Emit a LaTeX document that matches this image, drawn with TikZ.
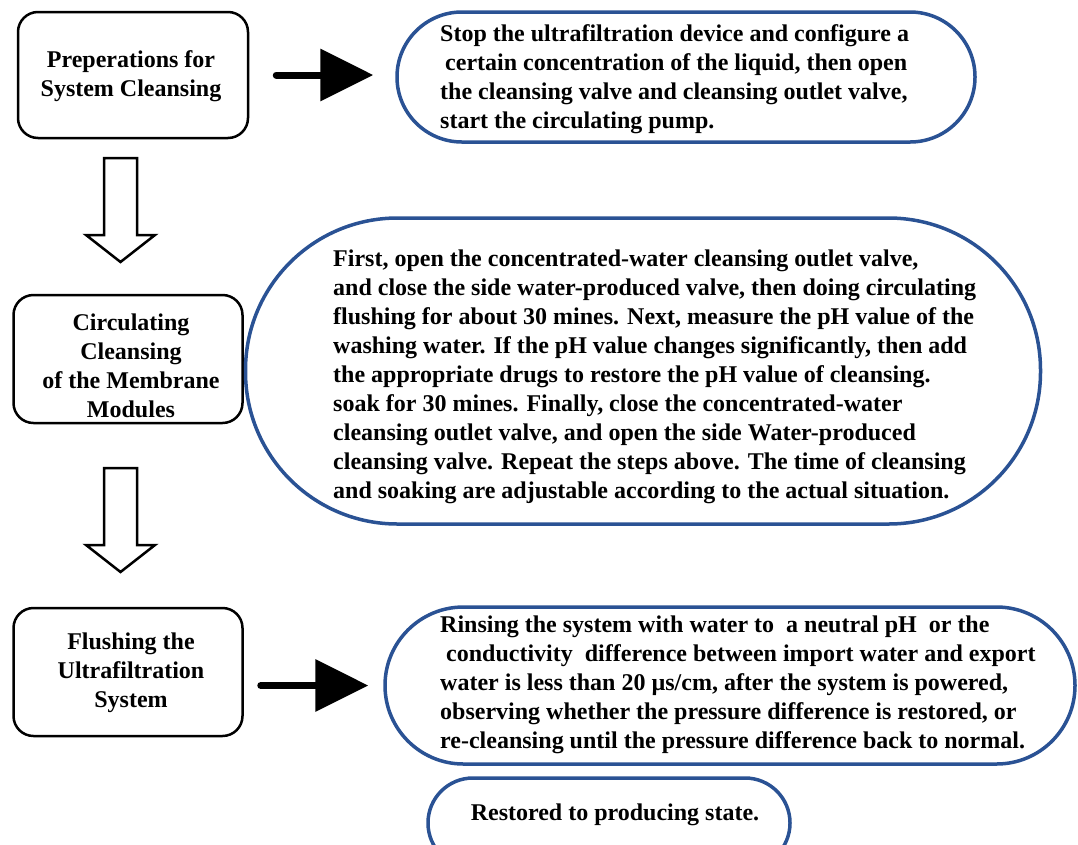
\documentclass[tikz,border=0pt]{standalone}
\usepackage{fontspec}
\setmainfont{Liberation Serif}
\usetikzlibrary{arrows.meta}
\definecolor{stblue}{RGB}{42,82,148}
\tikzset{
  stepbox/.style={draw=black, line width=2.5pt, rounded corners=20pt, inner sep=0pt},
  pill/.style={draw=stblue, line width=3.5pt, inner sep=0pt},
  txt/.style={font=\bfseries\fontsize{24}{29}\selectfont, inner sep=0pt},
  bigarrow/.style={line width=7pt, line cap=round, -{Triangle[length=53pt,width=51pt]}},
  hollow/.style={draw=black, line width=2.5pt, fill=white, line join=miter}
}
\begin{document}
\begin{tikzpicture}[x=1pt,y=-1pt]
\useasboundingbox (0,0) rectangle (1078,844);
\clip (0,0) rectangle (1078,844);

% left boxes
\node[stepbox, minimum width=230pt, minimum height=126pt] (b1) at (133,75) {};
\node[txt, align=center] (b1t) at (131,76) {Preperations for\\System Cleansing};
\node[stepbox, minimum width=229pt, minimum height=128pt] (b2) at (128,359) {};
\node[txt, align=center] (b2t) at (131,366) {Circulating\\Cleansing\\of the Membrane\\Modules};
\node[stepbox, minimum width=229pt, minimum height=128pt] (b3) at (128,672) {};
\node[txt, align=center] (b3t) at (131,673) {Flushing the\\Ultrafiltration\\System};

% pills
\node[pill, rounded corners=64.9pt, minimum width=578pt, minimum height=130pt] (s1) at (686,77) {};
\node[txt, align=left, anchor=west] (s1t) at (440,79) {Stop the ultrafiltration device and configure a\\\hspace{5pt}certain concentration of the liquid, then open\\the cleansing valve and cleansing outlet valve,\\start the circulating pump.};

\node[pill, rounded corners=152pt, minimum width=795pt, minimum height=306pt] (s2) at (643,371) {};
\node[txt, align=left, anchor=west] (s2t) at (333,377) {First, open the concentrated-water cleansing outlet valve,\\and close the side water-produced valve, then doing circulating\\flushing for about 30 mines. Next, measure the pH value of the\\washing water. If the pH value changes significantly, then add\\the appropriate drugs to restore the pH value of cleansing.\\soak for 30 mines. Finally, close the concentrated-water\\cleansing outlet valve, and open the side Water-produced\\cleansing valve. Repeat the steps above. The time of cleansing\\and soaking are adjustable according to the actual situation.};

\node[pill, rounded corners=78.4pt, minimum width=690pt, minimum height=157pt] (s3) at (730,685.5) {};
\node[txt, align=left, anchor=west] (s3t) at (440,685) {Rinsing the system with water to\ \ a neutral pH\ \ or the\\\hspace{6pt}conductivity\ \ difference between import water and export\\water is less than 20 µs/cm, after the system is powered,\\observing whether the pressure difference is restored, or\\re-cleansing until the pressure difference back to normal.};

\node[pill, rounded corners=44.9pt, minimum width=362pt, minimum height=90pt] (s4) at (609,823) {};
\node[txt] (s4t) at (615,815) {Restored to producing state.};

% solid arrows
\draw[bigarrow, shorten <=27pt, shorten >=22pt] (b1.east) -- (s1.west |- b1.east);
\draw[bigarrow, shorten <=17pt, shorten >=15pt] (b3.east |- s3.west) -- (s3.west);

% hollow arrows
\draw[hollow] (104,158) -- (137,158) -- (137,235) -- (155,235) -- (120.5,262) -- (86,235) -- (104,235) -- cycle;
\draw[hollow] (104,468) -- (137,468) -- (137,545) -- (155,545) -- (120.5,572) -- (86,545) -- (104,545) -- cycle;
\end{tikzpicture}
\end{document}
